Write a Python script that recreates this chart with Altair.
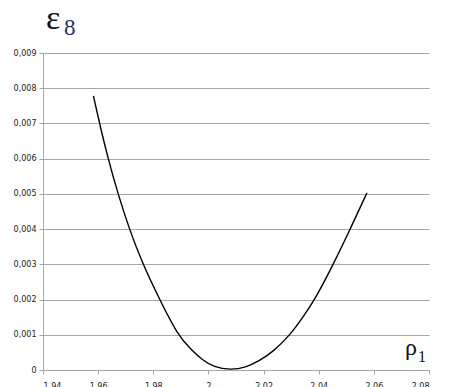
import altair as alt
import pandas as pd

# Residual eps_8 as a function of rho_1
rho = [1.9583, 1.9605, 1.9636, 1.9672, 1.9713, 1.9762, 1.9823, 1.9888, 1.9935, 1.9975,
       2.0020, 2.0080, 2.0135, 2.0185, 2.0235, 2.0297, 2.0343, 2.0386, 2.0453, 2.0514, 2.0575]
eps = [0.00778, 0.0070, 0.0060, 0.0050, 0.0040, 0.0030, 0.0020, 0.0010, 0.0006, 0.0003,
       0.00008, 0.0, 0.00007, 0.00026, 0.00052, 0.0010, 0.0015, 0.0020, 0.0030, 0.0040, 0.00503]

x_ticks = [1.94, 1.96, 1.98, 2.00, 2.02, 2.04, 2.06, 2.08]
y_ticks = [0, 0.001, 0.002, 0.003, 0.004, 0.005, 0.006, 0.007, 0.008, 0.009]

df = pd.DataFrame({"rho": rho, "eps": eps})

GRID = "#a6a6a6"
LABEL_FONT = "DejaVu Sans"
SERIF = "Liberation Serif"

x_enc = alt.X(
    "rho:Q",
    scale=alt.Scale(domain=[1.94, 2.08], nice=False, zero=False),
    axis=alt.Axis(
        values=x_ticks,
        title=None,
        grid=False,
        domainColor=GRID,
        tickColor=GRID,
        tickSize=4,
        labelPadding=8,
        labelFont=LABEL_FONT,
        labelFontSize=8,
        labelColor="#222222",
        labelExpr="replace(format(datum.value, '.2~f'), '.', ',')",
    ),
)
y_enc = alt.Y(
    "eps:Q",
    scale=alt.Scale(domain=[0, 0.009], nice=False),
    axis=alt.Axis(
        values=y_ticks,
        title=None,
        grid=True,
        gridColor=GRID,
        gridWidth=1,
        domainColor=GRID,
        tickColor=GRID,
        tickSize=4,
        labelPadding=3,
        labelFont=LABEL_FONT,
        labelFontSize=8,
        labelColor="#222222",
        labelExpr="replace(format(datum.value, '.3~f'), '.', ',')",
    ),
)

curve = alt.Chart(df).mark_line(
    color="black", strokeWidth=1.4, interpolate="basis"
).encode(x=x_enc, y=y_enc)

eps_label = alt.Chart(pd.DataFrame({"t": ["ε"]})).mark_text(
    font=SERIF, fontSize=34, align="left", baseline="alphabetic", color="#111111"
).encode(text="t:N", x=alt.value(3), y=alt.value(-24))
eps_sub = alt.Chart(pd.DataFrame({"t": ["8"]})).mark_text(
    font=SERIF, fontSize=23, align="left", baseline="alphabetic", color="#1f2f6e"
).encode(text="t:N", x=alt.value(21), y=alt.value(-18))
rho_label = alt.Chart(pd.DataFrame({"t": ["ρ"]})).mark_text(
    font=SERIF, fontSize=24, align="left", baseline="alphabetic", color="#111111"
).encode(text="t:N", x=alt.value(362), y=alt.value(302))
rho_sub = alt.Chart(pd.DataFrame({"t": ["1"]})).mark_text(
    font=SERIF, fontSize=16, align="left", baseline="alphabetic", color="#111111"
).encode(text="t:N", x=alt.value(375), y=alt.value(309))

chart = alt.layer(curve, eps_label, eps_sub, rho_label, rho_sub).properties(
    width=386,
    height=317,
    autosize=alt.AutoSizeParams(type="none"),
    padding={"left": 43, "top": 53, "right": 37, "bottom": 17},
    background="white",
).configure_view(stroke=None)

chart.save("out.html", embed_options={"renderer": "svg", "actions": False})
